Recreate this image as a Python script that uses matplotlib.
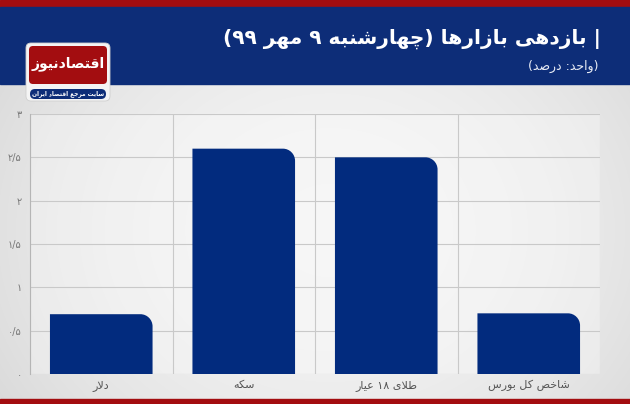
"""Market returns bar chart (Persian)."""

import matplotlib
matplotlib.use("Agg")
import matplotlib.pyplot as plt
import numpy as np
from matplotlib.patches import FancyBboxPatch, PathPatch, Rectangle
from matplotlib.path import Path

categories = ["دلار", "سکه", "طلای ۱۸ عیار", "شاخص کل بورس"]
values = [0.69, 2.6, 2.5, 0.7]
y_ticks = [0, 0.5, 1, 1.5, 2, 2.5, 3]
y_tick_labels = ["۰", "۰/۵", "۱", "۱/۵", "۲", "۲/۵", "۳"]
title = "| بازدهی بازارها (چهارشنبه ۹ مهر ۹۹)"
subtitle = "(واحد: درصد)"
logo_text = "اقتصادنیوز"
logo_tag = "سایت مرجع اقتصاد ایران"

RED = "#a30d10"
BAND = "#0d2d78"
BAR = "#022b7e"

# minimal arabic shaping: isolated, final, initial, medial
FORMS = {
    "ا": ("\uFE8D", "\uFE8E", None, None),
    "ب": ("\uFE8F", "\uFE90", "\uFE91", "\uFE92"),
    "ت": ("\uFE95", "\uFE96", "\uFE97", "\uFE98"),
    "ج": ("\uFE9D", "\uFE9E", "\uFE9F", "\uFEA0"),
    "ح": ("\uFEA1", "\uFEA2", "\uFEA3", "\uFEA4"),
    "خ": ("\uFEA5", "\uFEA6", "\uFEA7", "\uFEA8"),
    "د": ("\uFEA9", "\uFEAA", None, None),
    "ر": ("\uFEAD", "\uFEAE", None, None),
    "ز": ("\uFEAF", "\uFEB0", None, None),
    "س": ("\uFEB1", "\uFEB2", "\uFEB3", "\uFEB4"),
    "ش": ("\uFEB5", "\uFEB6", "\uFEB7", "\uFEB8"),
    "ص": ("\uFEB9", "\uFEBA", "\uFEBB", "\uFEBC"),
    "ط": ("\uFEC1", "\uFEC2", "\uFEC3", "\uFEC4"),
    "ع": ("\uFEC9", "\uFECA", "\uFECB", "\uFECC"),
    "ق": ("\uFED5", "\uFED6", "\uFED7", "\uFED8"),
    "ل": ("\uFEDD", "\uFEDE", "\uFEDF", "\uFEE0"),
    "م": ("\uFEE1", "\uFEE2", "\uFEE3", "\uFEE4"),
    "ن": ("\uFEE5", "\uFEE6", "\uFEE7", "\uFEE8"),
    "ه": ("\uFEE9", "\uFEEA", "\uFEEB", "\uFEEC"),
    "و": ("\uFEED", "\uFEEE", None, None),
    "چ": ("\uFB7A", "\uFB7B", "\uFB7C", "\uFB7D"),
    "ک": ("\uFB8E", "\uFB8F", "\uFB90", "\uFB91"),
    "ی": ("\uFBFC", "\uFBFD", "\uFBFE", "\uFBFF"),
}
MIRROR = {"(": ")", ")": "("}


def rtl(s):
    chars = list(s)
    shaped = []
    i = 0
    while i < len(chars):
        c = chars[i]
        prev = chars[i - 1] if i > 0 else ""
        joins_prev = prev in FORMS and FORMS[prev][2] is not None
        if c not in FORMS:
            shaped.append(c)
            i += 1
            continue
        if c == "ل" and i + 1 < len(chars) and chars[i + 1] == "ا":
            shaped.append("\uFEFC" if joins_prev else "\uFEFB")
            i += 2
            continue
        nxt = chars[i + 1] if i + 1 < len(chars) else ""
        joins_next = FORMS[c][2] is not None and nxt in FORMS
        iso, fin, ini, med = FORMS[c]
        if joins_prev and joins_next:
            shaped.append(med)
        elif joins_prev:
            shaped.append(fin)
        elif joins_next:
            shaped.append(ini)
        else:
            shaped.append(iso)
        i += 1
    # visual order: reverse, keeping digit runs left-to-right
    runs = []
    for ch in shaped:
        is_digit = "\u06F0" <= ch <= "\u06F9"
        if runs and runs[-1][0] == is_digit:
            runs[-1][1].append(ch)
        else:
            runs.append([is_digit, [ch]])
    out = []
    for is_digit, run in reversed(runs):
        if is_digit:
            out.extend(run)
        else:
            out.extend(MIRROR.get(ch, ch) for ch in reversed(run))
    return "".join(out)


plt.rcParams["font.family"] = ["DejaVu Sans"]

fig = plt.figure(figsize=(6.3, 4.04), dpi=100)

# background / header layer in pixel coordinates
bg = fig.add_axes([0, 0, 1, 1], zorder=0)
bg.set_xlim(0, 630)
bg.set_ylim(404, 0)
bg.axis("off")

yy, xx = np.mgrid[0:404, 0:630]
r = ((xx - 330) / 360.0) ** 2 + ((yy - 230) / 300.0) ** 2
shade = np.clip(0.955 - 0.085 * r, 0.8, 1)
bg.imshow(np.dstack([shade, shade, shade]), extent=(0, 630, 404, 0), zorder=0, aspect="auto")

bg.add_patch(Rectangle((0, 0), 630, 7, color=RED, zorder=1))
bg.add_patch(Rectangle((0, 7), 630, 77, color=BAND, zorder=1))
bg.add_patch(Rectangle((0, 399), 630, 5, color=RED, zorder=1))

bg.text(601, 39, rtl(title), color="white", fontsize=14.5, fontweight="bold",
        ha="right", va="center", zorder=3)
bg.text(599, 66, rtl(subtitle), color="#e8ecf5", fontsize=9,
        ha="right", va="center", zorder=3)

# logo
bg.add_patch(FancyBboxPatch((26, 43), 84, 58, boxstyle="round,pad=0,rounding_size=5",
                            fc="#f4f4f4", ec="#cfcfcf", lw=0.6, zorder=2))
bg.add_patch(FancyBboxPatch((29, 46), 78, 38, boxstyle="round,pad=0,rounding_size=4",
                            fc=RED, ec="none", zorder=3))
bg.add_patch(FancyBboxPatch((30, 89), 76, 10, boxstyle="round,pad=0,rounding_size=5",
                            fc=BAND, ec="none", zorder=3))
bg.text(68, 64, rtl(logo_text), color="white", fontsize=10, fontweight="bold",
        ha="center", va="center", zorder=4)
bg.text(68, 94, rtl(logo_tag), color="white", fontsize=4.2, fontweight="bold",
        ha="center", va="center", zorder=4)

# chart
ax = fig.add_axes([30 / 630, 30 / 404, 570 / 630, 260 / 404], zorder=1)
ax.set_facecolor((1, 1, 1, 0.3))
x = np.arange(len(categories))
bars = ax.bar(x, values, width=0.72, color=BAR, zorder=3)

# round the top-right corner of each bar
rx, ry = 0.085, 0.14
for rect in bars:
    x0, w, h = rect.get_x(), rect.get_width(), rect.get_height()
    x1 = x0 + w
    k = 0.55
    verts = [(x0, 0), (x0, h), (x1 - rx, h),
             (x1 - rx + k * rx, h), (x1, h - ry + k * ry), (x1, h - ry),
             (x1, 0), (x0, 0)]
    codes = [Path.MOVETO, Path.LINETO, Path.LINETO,
             Path.CURVE4, Path.CURVE4, Path.CURVE4,
             Path.LINETO, Path.CLOSEPOLY]
    ax.add_patch(PathPatch(Path(verts, codes), fc=BAR, ec="none", zorder=3))
    rect.set_visible(False)

ax.set_xlim(-0.5, len(categories) - 0.5)
ax.set_ylim(0, 3)
ax.set_yticks(y_ticks)
ax.set_yticklabels(y_tick_labels)
ax.set_xticks(x)
ax.set_xticklabels([rtl(c) for c in categories])
ax.set_xticks(np.arange(len(categories) + 1) - 0.5, minor=True)
ax.grid(axis="y", color="#c9c9c9", lw=0.8, zorder=1)
ax.grid(axis="x", which="minor", color="#c9c9c9", lw=0.8, zorder=1)
ax.tick_params(axis="both", which="both", length=0)
ax.tick_params(axis="y", labelsize=7, labelcolor="#777777", pad=6)
ax.tick_params(axis="x", labelsize=8, labelcolor="#555555", pad=4)
for side in ["top", "right", "bottom"]:
    ax.spines[side].set_visible(False)
ax.spines["left"].set_color("#b5b5b5")
ax.spines["left"].set_linewidth(0.8)

fig.savefig("out.png", dpi=100)
